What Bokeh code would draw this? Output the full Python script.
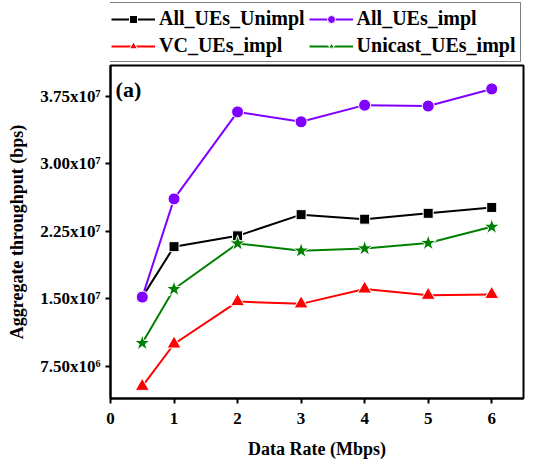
from bokeh.plotting import figure
from bokeh.layouts import column
from bokeh.models import Legend, LegendItem, FixedTicker, Range1d, Label
from bokeh.embed import file_html
from bokeh.resources import INLINE

data_rate = [0.5, 1, 2, 3, 4, 5, 6]
all_ues_unimpl = [1.52e7, 2.08e7, 2.20e7, 2.435e7, 2.385e7, 2.45e7, 2.515e7]
all_ues_impl = [1.52e7, 2.61e7, 3.575e7, 3.465e7, 3.65e7, 3.64e7, 3.83e7]
vc_ues_impl = [5.3e6, 1.0e7, 1.47e7, 1.445e7, 1.61e7, 1.54e7, 1.55e7]
unicast_ues_impl = [1.01e7, 1.61e7, 2.115e7, 2.035e7, 2.06e7, 2.12e7, 2.30e7]

x_ticks = [0, 1, 2, 3, 4, 5, 6]
y_ticks = [7.5e6, 1.5e7, 2.25e7, 3.0e7, 3.75e7]
y_tick_labels = ["7.50x10\u2076", "1.50x10\u2077", "2.25x10\u2077", "3.00x10\u2077", "3.75x10\u2077"]

FONT = "Liberation Serif"

series = [
    ("All_UEs_Unimpl", all_ues_unimpl, "black", "square", 10),
    ("All_UEs_impl", all_ues_impl, "#7f00ff", "circle", 12),
    ("VC_UEs_impl", vc_ues_impl, "red", "triangle", 14),
    ("Unicast_UEs_impl", unicast_ues_impl, "green", "star", 17),
]

# ---- main plot ----
p = figure(width=535, height=401, output_backend="svg", toolbar_location=None,
           x_range=Range1d(0, 6.5), y_range=Range1d(3.95e6, 4.09e7),
           min_border_left=110, min_border_right=12, min_border_top=2, min_border_bottom=66)
p.xgrid.visible = False
p.ygrid.visible = False
p.outline_line_color = "black"
p.outline_line_width = 2
p.background_fill_color = "white"
p.border_fill_color = "white"

for name, ys, color, marker, size in series:
    p.line(data_rate, ys, line_color=color, line_width=2)
    p.scatter(data_rate, ys, marker=marker, size=size, fill_color=color,
              line_color="white", line_width=1)

for ax in (p.xaxis[0], p.yaxis[0]):
    ax.axis_line_width = 2
    ax.major_tick_line_width = 2
    ax.major_tick_in = 0
    ax.major_tick_out = 5
    ax.minor_tick_line_color = None
    ax.major_label_text_font = FONT
    ax.major_label_text_font_style = "bold"
    ax.major_label_text_font_size = "17px"
    ax.major_label_text_color = "black"
    ax.axis_label_text_font = FONT
    ax.axis_label_text_font_style = "bold"
    ax.axis_label_text_font_size = "18px"
    ax.axis_label_text_color = "black"

p.xaxis.ticker = FixedTicker(ticks=x_ticks)
p.yaxis.ticker = FixedTicker(ticks=y_ticks)
p.yaxis.major_label_overrides = {t: lab for t, lab in zip(y_ticks, y_tick_labels)}
p.xaxis.axis_label = "Data Rate (Mbps)"
p.yaxis.axis_label = "Aggregate throughput (bps)"
p.xaxis.major_label_standoff = 9
p.xaxis.axis_label_standoff = 12
p.yaxis.axis_label_standoff = 10

p.add_layout(Label(x=0.08, y=3.965e7, text="(a)", text_font=FONT, text_font_style="bold",
                   text_font_size="22px", text_color="black",
                   text_baseline="top", text_align="left"))

# ---- legend strip above the plot ----
lf = figure(width=535, height=63, output_backend="svg", toolbar_location=None,
            x_range=Range1d(-20, -19), y_range=Range1d(-20, -19),
            x_axis_location=None, y_axis_location=None, min_border=0)
lf.grid.visible = False
lf.outline_line_color = None
lf.background_fill_color = "white"
lf.border_fill_color = "white"

items = []
for name, ys, color, marker, size in series:
    l = lf.line(data_rate, ys, line_color=color, line_width=2)
    s = lf.scatter(data_rate, ys, marker=marker, size=size, fill_color=color,
                   line_color="white", line_width=1)
    items.append(LegendItem(label=name, renderers=[l, s]))

legend = Legend(items=items, orientation="horizontal", nrows=2, location=(-4, 1),
                label_text_font=FONT, label_text_font_style="bold", label_text_font_size="20px",
                label_text_color="black",
                glyph_width=44, glyph_height=20, label_height=20, spacing=4,
                padding=4, margin=0, label_standoff=4,
                border_line_color="black", border_line_width=1.5,
                background_fill_alpha=1)
lf.add_layout(legend)

layout = column(lf, p, spacing=0)
open("out.html", "w").write(file_html(layout, INLINE))
